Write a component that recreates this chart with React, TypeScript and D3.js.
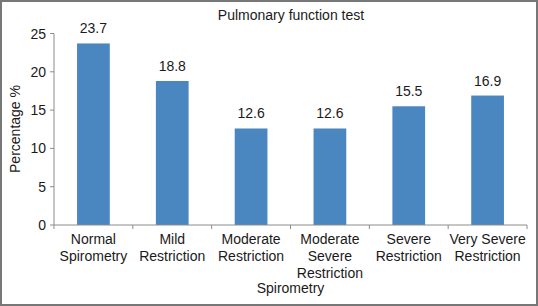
import React from "react";
import * as d3 from "d3";

const categories: string[][] = [
  ["Normal", "Spirometry"],
  ["Mild", "Restriction"],
  ["Moderate", "Restriction"],
  ["Moderate", "Severe", "Restriction"],
  ["Severe", "Restriction"],
  ["Very Severe", "Restriction"],
];
const values: number[] = [23.7, 18.8, 12.6, 12.6, 15.5, 16.9];
const yTicks: number[] = [0, 5, 10, 15, 20, 25];
const title = "Pulmonary function test";
const xTitle = "Spirometry";
const yTitle = "Percentage %";

const W = 538;
const H = 306;
const FONT = "Arial, 'Liberation Sans', sans-serif";

export default function App() {
  const left = 54;
  const right = 527;
  const y0 = 225;
  const yTop = 33.5;
  const keys = categories.map((_, i) => String(i));
  const x = d3.scaleBand<string>().domain(keys).range([left, right]).padding(0);
  const y = d3.scaleLinear().domain([0, 25]).range([y0, yTop]);
  const bw = x.bandwidth() * 0.415;
  const axisColor = "#8c8c8c";
  const textColor = "#1a1a1a";

  return (
    <svg
      width={W}
      height={H}
      style={{ position: "absolute", left: 0, top: 0, background: "#fff" }}
      fontFamily={FONT}
    >
      <rect x={1} y={1} width={W - 2} height={H - 2} fill="#fff" stroke="#777" strokeWidth={2} />
      <text x={291} y={20} textAnchor="middle" fontSize={14} fill={textColor}>
        {title}
      </text>
      {/* y axis */}
      <line x1={left} x2={left} y1={yTop} y2={y0} stroke={axisColor} strokeWidth={1} />
      {yTicks.map((t) => (
        <g key={t}>
          <line x1={left - 4} x2={left} y1={y(t)} y2={y(t)} stroke={axisColor} />
          <text x={46} y={y(t)} dy="0.36em" textAnchor="end" fontSize={14} fill={textColor}>
            {t}
          </text>
        </g>
      ))}
      {/* bars */}
      {values.map((v, i) => {
        const cx = (x(String(i)) as number) + x.bandwidth() / 2;
        return (
          <g key={i}>
            <rect x={cx - bw / 2} y={y(v)} width={bw} height={y0 - y(v)} fill="#4a86c0" />
            <text x={cx} y={y(v) - 10} textAnchor="middle" fontSize={14} fill={textColor}>
              {v.toFixed(1)}
            </text>
          </g>
        );
      })}
      {/* x axis */}
      <line x1={left} x2={right} y1={y0} y2={y0} stroke={axisColor} strokeWidth={1} />
      {keys.map((k) => (
        <line key={k} x1={x(k) as number} x2={x(k) as number} y1={y0} y2={y0 + 4} stroke={axisColor} />
      ))}
      <line x1={right} x2={right} y1={y0} y2={y0 + 4} stroke={axisColor} />
      {categories.map((lines, i) => {
        const cx = (x(String(i)) as number) + x.bandwidth() / 2;
        return (
          <text key={i} textAnchor="middle" fontSize={14} fill={textColor}>
            {lines.map((l, j) => (
              <tspan key={j} x={cx} y={243.5 + j * 17}>
                {l}
              </tspan>
            ))}
          </text>
        );
      })}
      <text x={290.5} y={293} textAnchor="middle" fontSize={14} fill={textColor}>
        {xTitle}
      </text>
      <text
        transform={`translate(20, 129) rotate(-90)`}
        textAnchor="middle"
        fontSize={14}
        fill={textColor}
      >
        {yTitle}
      </text>
    </svg>
  );
}
